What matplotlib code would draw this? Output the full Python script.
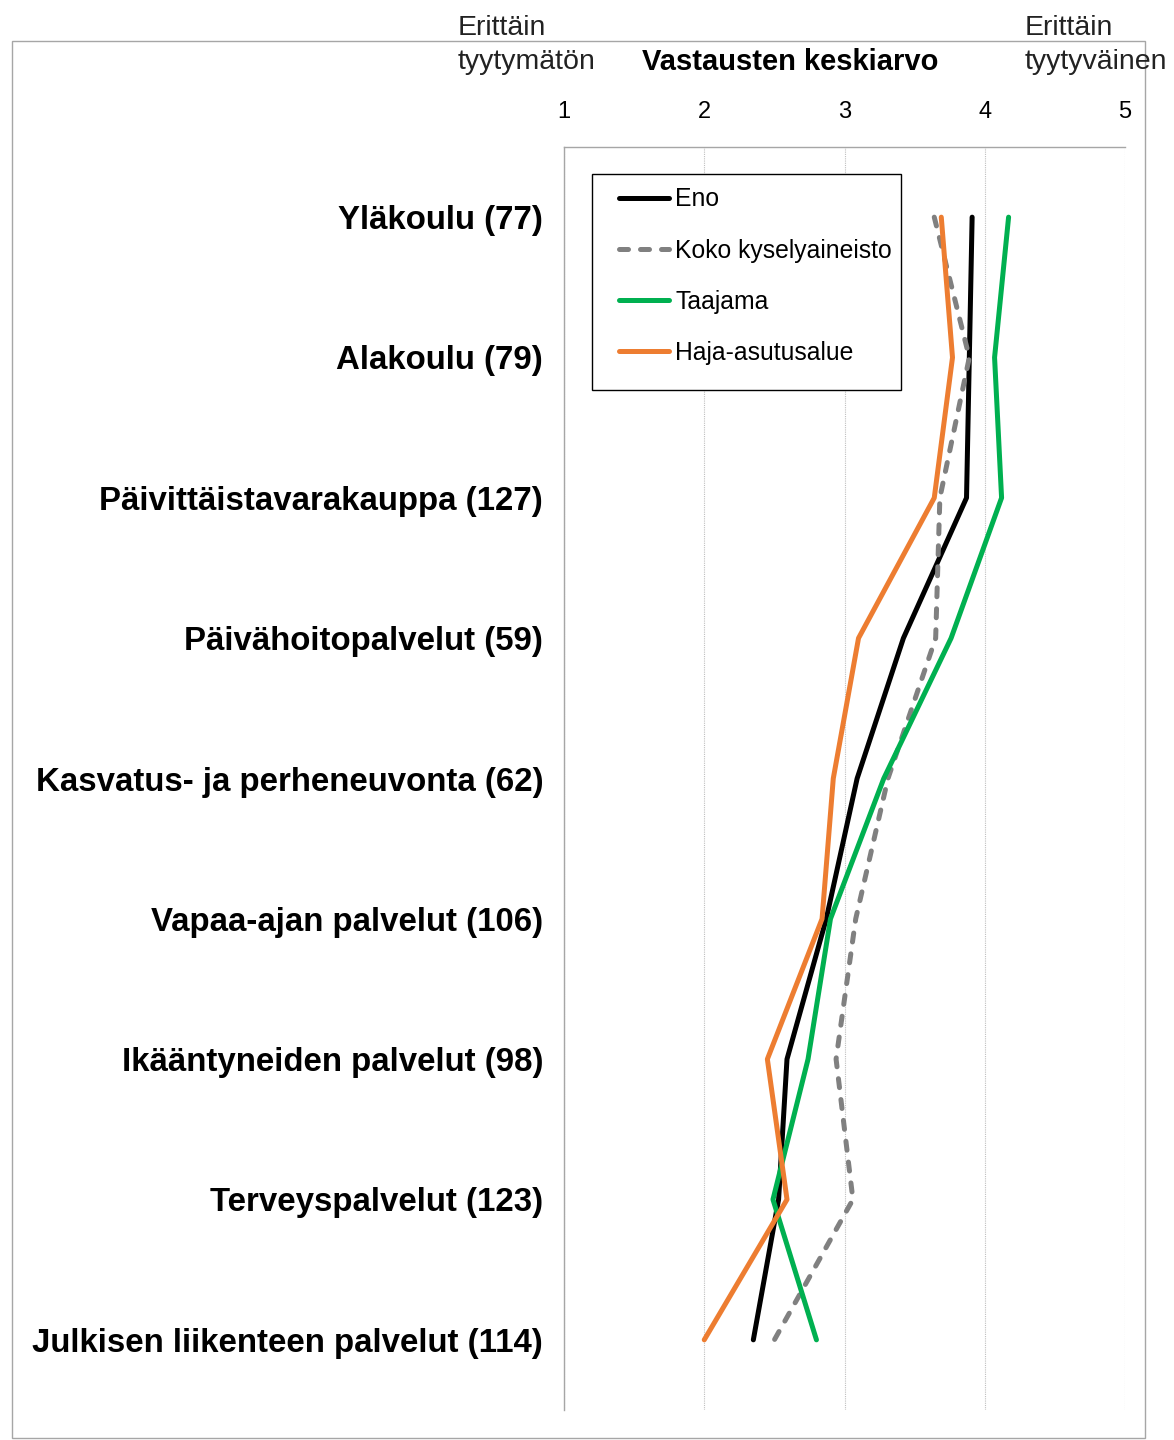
import numpy as np
import matplotlib
matplotlib.use("Agg")
import matplotlib.pyplot as plt
from matplotlib.patches import Rectangle

plt.rcParams["font.family"] = ["Liberation Sans", "DejaVu Sans"]

categories = [
    "Yläkoulu (77)",
    "Alakoulu (79)",
    "Päivittäistavarakauppa (127)",
    "Päivähoitopalvelut (59)",
    "Kasvatus- ja perheneuvonta (62)",
    "Vapaa-ajan palvelut (106)",
    "Ikääntyneiden palvelut (98)",
    "Terveyspalvelut (123)",
    "Julkisen liikenteen palvelut (114)",
]
eno = [3.91, 3.89, 3.87, 3.42, 3.09, 2.87, 2.59, 2.53, 2.35]
koko = [3.64, 3.89, 3.68, 3.65, 3.31, 3.08, 2.94, 3.06, 2.50]
taajama = [4.17, 4.07, 4.12, 3.76, 3.28, 2.90, 2.74, 2.49, 2.80]
haja = [3.69, 3.77, 3.64, 3.10, 2.92, 2.84, 2.45, 2.59, 2.00]
x_ticks = [1, 2, 3, 4, 5]

W, H = 1174, 1440
fig = plt.figure(figsize=(W / 100, H / 100), dpi=100)

# outer frame
fig.patches.append(Rectangle((12 / W, 1 - 1438 / H), (1145 - 12) / W, (1438 - 41) / H,
                             transform=fig.transFigure, fill=False, ec="#a6a6a6", lw=1.0))

ax_l, ax_t, ax_r, ax_b = 564, 147, 1125, 1410
ax = fig.add_axes([ax_l / W, 1 - ax_b / H, (ax_r - ax_l) / W, (ax_b - ax_t) / H])
y = np.arange(len(categories))

ax.plot(eno, y, color="black", lw=3.6, label="Eno", solid_capstyle="round")
ax.plot(koko, y, color="#808080", lw=3.6, ls=(0, (1.8, 2.4)), label="Koko kyselyaineisto",
        dash_capstyle="round")
ax.plot(taajama, y, color="#00b050", lw=3.6, label="Taajama", solid_capstyle="round")
ax.plot(haja, y, color="#ed7d31", lw=3.6, label="Haja-asutusalue", solid_capstyle="round")

ax.set_xlim(1, 5)
ax.set_ylim(len(categories) - 0.5, -0.5)
ax.xaxis.tick_top()
ax.set_xticks(x_ticks)
ax.set_xticklabels([str(t) for t in x_ticks], fontsize=17)
ax.tick_params(axis="x", length=0, pad=17)
ax.set_yticks(y)
ax.set_yticklabels(categories, fontsize=23.8, fontweight="bold")
ax.tick_params(axis="y", length=0, pad=15)
ax.grid(axis="x", color="#bfbfbf", ls=(0, (1, 1)), lw=0.8)
for s in ["bottom", "right"]:
    ax.spines[s].set_visible(False)
for s in ["top", "left"]:
    ax.spines[s].set_color("#a6a6a6")
    ax.spines[s].set_linewidth(1.0)

# legend box drawn separately to match the reference's padding
pw, ph = ax_r - ax_l, ax_b - ax_t
ax.add_patch(Rectangle(((592 - ax_l) / pw, 1 - (390 - ax_t) / ph), (901 - 592) / pw, (390 - 174) / ph,
                       transform=ax.transAxes, fill=True, fc="white", ec="black", lw=1.0,
                       zorder=4, clip_on=False))
leg = ax.legend(loc="upper left", bbox_to_anchor=((612 - ax_l) / pw, 1 - (180 - ax_t) / ph),
                borderaxespad=0, fontsize=17.8, frameon=False,
                handlelength=2.0, handletextpad=0.25, labelspacing=1.1, borderpad=0.3)
leg.set_zorder(5)

hdr = dict(fontsize=20.5, va="center", ha="left", color="#222222")
fig.text(458 / W, 1 - 28 / H, "Erittäin", **hdr)
fig.text(458 / W, 1 - 62 / H, "tyytymätön", **hdr)
fig.text(790 / W, 1 - 62 / H, "Vastausten keskiarvo", fontsize=21, fontweight="bold",
         va="center", ha="center")
fig.text(1025 / W, 1 - 28 / H, "Erittäin", **hdr)
fig.text(1025 / W, 1 - 62 / H, "tyytyväinen", **hdr)

fig.savefig("out.png", dpi=100)
